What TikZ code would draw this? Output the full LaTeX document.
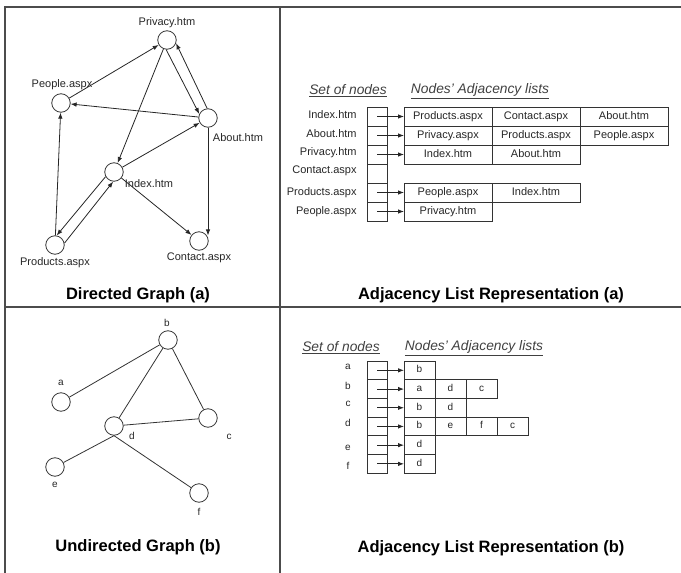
\documentclass[tikz,border=0pt]{standalone}
\usepackage{fontspec}
\setmainfont{Liberation Sans}
\usetikzlibrary{positioning, arrows.meta}

\begin{document}
\begin{tikzpicture}[
    x=1pt, y=-1pt,
    line width=0.8pt,
    frame/.style={line width=1.3pt, draw=black!70},
    vertex/.style={draw=black!80, circle, minimum size=18.5pt, inner sep=0pt},
    txt/.style={font=\fontsize{11}{13}\selectfont, text=black!85, inner sep=0pt},
    ltr/.style={font=\fontsize{10}{12}\selectfont, text=black!85, inner sep=0pt},
    heading/.style={font=\fontsize{16.5}{19}\selectfont\bfseries, inner sep=0pt},
    listhead/.style={font=\fontsize{13.8}{16}\selectfont\itshape, text=black!75, inner sep=0pt},
    setcell/.style={draw=black!80, line width=1pt, minimum height=19pt, minimum width=20pt, inner sep=0pt, outer sep=0pt},
    lcell/.style={setcell, minimum width=88pt, text height=8pt, text depth=2.5pt, font=\fontsize{11}{13}\selectfont, text=black!85},
    scell/.style={setcell, minimum width=31pt, minimum height=18.7pt, text height=7pt, text depth=2pt, font=\fontsize{10}{12}\selectfont, text=black!85},
    arr/.style={-{Latex[length=6pt, width=4.5pt]}, draw=black!85},
    link/.style={draw=black!80}
]{
    \useasboundingbox (0,0) rectangle (681,573);

    % frame
    \draw[frame] (5,573) -- (5,7) -- (681,7);
    \draw[frame] (280,7) -- (280,573);
    \draw[frame] (5,307) -- (681,307);

    % Directed graph
    \node[vertex](privacy) at (167,40){};
    \node[vertex](people) at (61,103){};
    \node[vertex](about) at (208,118){};
    \node[vertex](index) at (114,172){};
    \node[vertex](products) at (55,245){};
    \node[vertex](contact) at (199,241){};

    \node[txt](privacy_lbl) at (167,23){Privacy.htm};
    \node[txt](people_lbl) at (62,85){People.aspx};
    \node[txt](about_lbl) at (238,138){About.htm};
    \node[txt](index_lbl) at (149,184){Index.htm};
    \node[txt](products_lbl) at (55,263){Products.aspx};
    \node[txt](contact_lbl) at (199,258){Contact.aspx};

    \draw[arr](people) -- (privacy);
    \draw[arr](about) -- (people);
    \draw[arr](privacy) -- (index);
    \draw[arr](privacy.-95) -- (about.155);
    \draw[arr](about.95) -- (privacy.-20);
    \draw[arr](about.south) -- (about.south |- contact.35);
    \draw[arr](index) -- (about);
    \draw[arr](index) -- (contact);
    \draw[arr](index.209) -- (products.80);
    \draw[arr](products.11) -- (index.-95);
    \draw[arr](products) -- (people);

    \node[heading](title_directed) at (138,295){Directed Graph (a)};

    % Adjacency list (a)
    \node[listhead](set_head_a) at (348,91){\underline{Set of nodes}};
    \node[listhead](adj_head_a) at (480,91){\underline{Nodes' Adjacency lists}};

    \node[setcell](set_index) at (377,116.5){};
    \node[setcell](set_about) at (377,135.5){};
    \node[setcell](set_privacy) at (377,154.5){};
    \node[setcell](set_contact) at (377,173.5){};
    \node[setcell](set_products) at (377,192.5){};
    \node[setcell](set_people) at (377,211.5){};

    \node[txt, left=10pt of set_index, yshift=2pt](name_index){Index.htm};
    \node[txt, left=10pt of set_about, yshift=2pt](name_about){About.htm};
    \node[txt, left=10pt of set_privacy, yshift=2pt](name_privacy){Privacy.htm};
    \node[txt, left=10pt of set_contact, yshift=3pt](name_contact){Contact.aspx};
    \node[txt, left=10pt of set_products](name_products){Products.aspx};
    \node[txt, left=10pt of set_people](name_people){People.aspx};

    \node[lcell, anchor=west](index_1) at (404,116.5){Products.aspx};
    \node[lcell, right=0pt of index_1](index_2){Contact.aspx};
    \node[lcell, right=0pt of index_2](index_3){About.htm};
    \node[lcell, anchor=west](about_1) at (404,135.5){Privacy.aspx};
    \node[lcell, right=0pt of about_1](about_2){Products.aspx};
    \node[lcell, right=0pt of about_2](about_3){People.aspx};
    \node[lcell, anchor=west](privacy_1) at (404,154.5){Index.htm};
    \node[lcell, right=0pt of privacy_1](privacy_2){About.htm};
    \node[lcell, anchor=west](products_1) at (404,192.5){People.aspx};
    \node[lcell, right=0pt of products_1](products_2){Index.htm};
    \node[lcell, anchor=west](people_1) at (404,211.5){Privacy.htm};

    \draw[arr](set_index.center) -- (index_1.west);
    \draw[arr](set_about.center) -- (about_1.west);
    \draw[arr](set_privacy.center) -- (privacy_1.west);
    \draw[arr](set_products.center) -- (products_1.west);
    \draw[arr](set_people.center) -- (people_1.west);

    \node[heading](title_list_a) at (491,295){Adjacency List Representation (a)};

    % Undirected graph
    \node[vertex](b) at (168,340){};
    \node[vertex](a) at (61,402){};
    \node[vertex](c) at (208,418){};
    \node[vertex](d) at (114,426){};
    \node[vertex](e) at (55,467){};
    \node[vertex](f) at (199,493){};

    \node[ltr](b_lbl) at (167,323){b};
    \node[ltr](a_lbl) at (61,383){a};
    \node[ltr](c_lbl) at (229,437){c};
    \node[ltr](d_lbl) at (132,436){d};
    \node[ltr](e_lbl) at (55,485){e};
    \node[ltr](f_lbl) at (199,512){f};

    \draw[link](a) -- (b);
    \draw[link](b) -- (d);
    \draw[link](b) -- (c);
    \draw[link](d) -- (c);
    \draw[link](d.south) -- (e);
    \draw[link](d.south) -- (f);

    \node[heading](title_undirected) at (138,547){Undirected Graph (b)};

    % Adjacency list (b)
    \node[listhead](set_head_b) at (341,348){\underline{Set of nodes}};
    \node[listhead](adj_head_b) at (474,348){\underline{Nodes' Adjacency lists}};

    \node[setcell, minimum height=18.7pt](set_a) at (377,370.35){};
    \node[setcell, minimum height=18.7pt](set_b) at (377,389.05){};
    \node[setcell, minimum height=18.7pt](set_c) at (377,407.75){};
    \node[setcell, minimum height=18.7pt](set_d) at (377,426.45){};
    \node[setcell, minimum height=18.7pt](set_e) at (377,445.15){};
    \node[setcell, minimum height=18.7pt](set_f) at (377,463.85){};

    \node[ltr](name_a) at (348,367){a};
    \node[ltr](name_b) at (348,386){b};
    \node[ltr](name_c) at (348,404){c};
    \node[ltr](name_d) at (348,423){d};
    \node[ltr](name_e) at (348,448){e};
    \node[ltr](name_f) at (348,466){f};

    \node[scell, anchor=west](a_1) at (404,370.35){b};
    \node[scell, anchor=west](b_1) at (404,389.05){a};
    \node[scell, right=0pt of b_1](b_2){d};
    \node[scell, right=0pt of b_2](b_3){c};
    \node[scell, anchor=west](c_1) at (404,407.75){b};
    \node[scell, right=0pt of c_1](c_2){d};
    \node[scell, anchor=west](d_1) at (404,426.45){b};
    \node[scell, right=0pt of d_1](d_2){e};
    \node[scell, right=0pt of d_2](d_3){f};
    \node[scell, right=0pt of d_3](d_4){c};
    \node[scell, anchor=west](e_1) at (404,445.15){d};
    \node[scell, anchor=west](f_1) at (404,463.85){d};

    \draw[arr](set_a.center) -- (a_1.west);
    \draw[arr](set_b.center) -- (b_1.west);
    \draw[arr](set_c.center) -- (c_1.west);
    \draw[arr](set_d.center) -- (d_1.west);
    \draw[arr](set_e.center) -- (e_1.west);
    \draw[arr](set_f.center) -- (f_1.west);

    \node[heading](title_list_b) at (491,548){Adjacency List Representation (b)};
}
\end{tikzpicture}
\end{document}
